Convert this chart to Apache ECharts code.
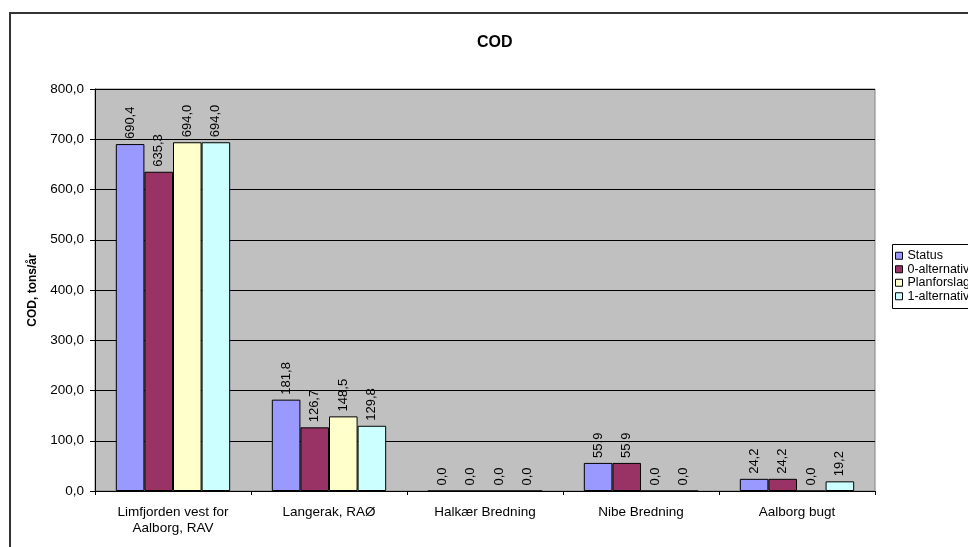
<!DOCTYPE html>
<html>
<head>
<meta charset="utf-8">
<script src="https://cdn.jsdelivr.net/npm/echarts@6/dist/echarts.min.js"></script>
<style>
  html, body { margin: 0; padding: 0; background: #fff; }
  #chart { width: 968px; height: 547px; }
</style>
</head>
<body>
<div id="chart"></div>
<script>
// Areas along the fjord
const categories = [
  'Limfjorden vest for\nAalborg, RAV',
  'Langerak, RAØ',
  'Halkær Bredning',
  'Nibe Bredning',
  'Aalborg bugt'
];

// COD load per scenario, tons/år
const status       = [690.4, 181.8, 0.0, 55.9, 24.2];
const alternativ0  = [635.3, 126.7, 0.0, 55.9, 24.2];
const planforslag  = [694.0, 148.5, 0.0, 0.0, 0.0];
const alternativ1  = [694.0, 129.8, 0.0, 0.0, 19.2];

const seriesNames = ['Status', '0-alternativ', 'Planforslag', '1-alternativ'];
const yTicks = [0, 100, 200, 300, 400, 500, 600, 700, 800];

const FONT = '"Liberation Sans", Arial, sans-serif';
const fmt = v => Number(v).toFixed(1).replace('.', ',');

const chart = echarts.init(document.getElementById('chart'), null, { renderer: 'canvas' });

function barSeries(name, data, color) {
  return {
    name: name,
    type: 'bar',
    data: data,
    barGap: '0%',
    barCategoryGap: '26.7%',
    itemStyle: { color: color, borderColor: '#000', borderWidth: 1 },
    label: {
      show: true,
      position: 'top',
      rotate: 90,
      align: 'left',
      verticalAlign: 'middle',
      distance: 5,
      color: '#000',
      fontFamily: FONT,
      fontSize: 13,
      formatter: p => fmt(p.value)
    }
  };
}

chart.setOption({
  animation: false,
  backgroundColor: '#fff',
  title: {
    text: 'COD',
    left: 477,
    top: 35,
    padding: 0,
    textStyle: { fontFamily: FONT, fontSize: 16, fontWeight: 'bold', color: '#000' }
  },
  legend: {
    orient: 'vertical',
    left: 892,
    top: 244,
    padding: [5, 0, 5, 3],
    itemWidth: 7,
    itemHeight: 7,
    itemGap: 0,
    icon: 'rect',
    data: seriesNames,
    textStyle: { fontFamily: FONT, fontSize: 12.5, color: '#000', lineHeight: 13.5 },
    itemStyle: { borderColor: '#000', borderWidth: 1 }
  },
  graphic: [{
    // outer chart frame, open to the right and bottom
    type: 'rect',
    silent: true,
    z: -1,
    shape: { x: 10, y: 13, width: 1000, height: 600 },
    style: { fill: 'none', stroke: '#333', lineWidth: 2 }
  }, {
    // legend frame
    type: 'rect',
    silent: true,
    z: 0,
    shape: { x: 892.5, y: 244.5, width: 120, height: 64 },
    style: { fill: '#fff', stroke: '#000', lineWidth: 1 }
  }],
  grid: {
    left: 95,
    right: 93,
    top: 89,
    bottom: 56,
    show: true,
    backgroundColor: '#C0C0C0',
    borderColor: '#808080',
    borderWidth: 1
  },
  xAxis: {
    type: 'category',
    data: categories,
    axisLine: { lineStyle: { color: '#000', width: 1 } },
    axisTick: { show: true, length: 4, lineStyle: { color: '#000' } },
    axisLabel: {
      color: '#000',
      fontFamily: FONT,
      fontSize: 13.5,
      lineHeight: 16.5,
      margin: 13,
      interval: 0
    }
  },
  yAxis: {
    type: 'value',
    min: yTicks[0],
    max: yTicks[yTicks.length - 1],
    interval: 100,
    name: 'COD, tons/år',
    nameLocation: 'middle',
    nameGap: 56,
    nameRotate: 90,
    nameTextStyle: { fontFamily: FONT, fontSize: 12, fontWeight: 'bold', color: '#000' },
    axisLine: { show: true, lineStyle: { color: '#000', width: 1 } },
    axisTick: { show: true, length: 5, lineStyle: { color: '#000' } },
    splitLine: { show: true, lineStyle: { color: '#000', width: 1 } },
    axisLabel: {
      color: '#000',
      fontFamily: FONT,
      fontSize: 13.5,
      margin: 11,
      formatter: v => fmt(v)
    }
  },
  series: [
    barSeries(seriesNames[0], status, '#9999FF'),
    barSeries(seriesNames[1], alternativ0, '#993366'),
    barSeries(seriesNames[2], planforslag, '#FFFFCC'),
    barSeries(seriesNames[3], alternativ1, '#CCFFFF')
  ]
});
</script>
</body>
</html>
